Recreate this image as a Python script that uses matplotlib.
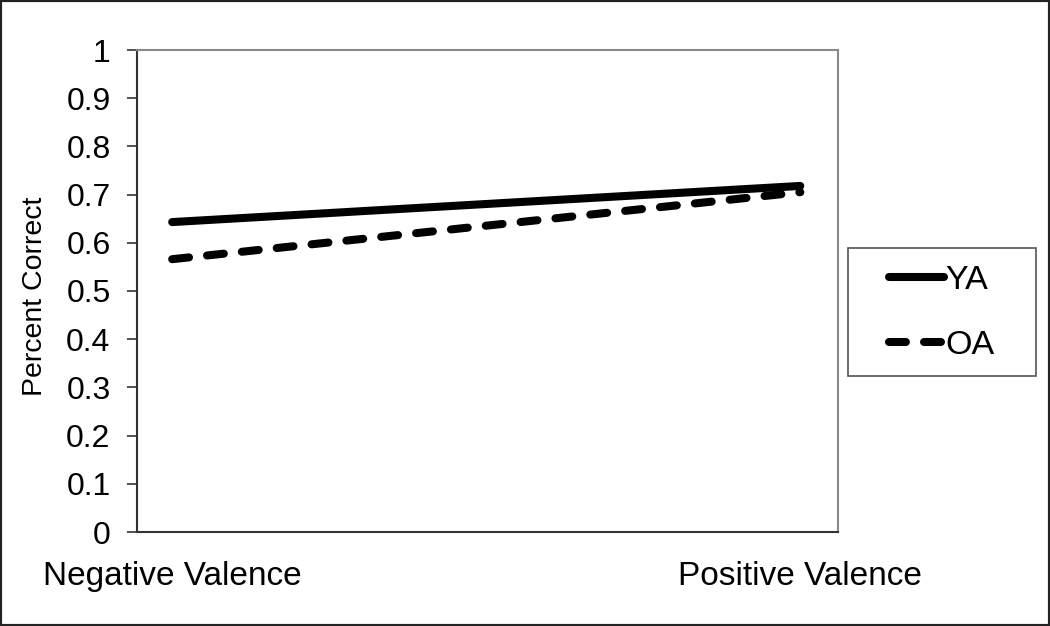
import matplotlib.pyplot as plt
from matplotlib.patches import Rectangle

# valeurs
categories = ["Negative Valence", "Positive Valence"]
ya_values = [0.643, 0.718]
oa_values = [0.566, 0.705]
y_ticks = [0, 0.1, 0.2, 0.3, 0.4, 0.5, 0.6, 0.7, 0.8, 0.9, 1]
y_tick_labels = ["0", "0.1", "0.2", "0.3", "0.4", "0.5", "0.6", "0.7", "0.8", "0.9", "1"]

plt.rcParams['font.family'] = ['Liberation Sans', 'DejaVu Sans']

fig = plt.figure(figsize=(10.5, 6.26), dpi=100)
ax = fig.add_axes([137 / 1050, 1 - 532 / 626, 701 / 1050, 482 / 626])

x = list(range(len(categories)))
ax.plot(x, ya_values, color='black', linewidth=5.8, solid_capstyle='round', label="YA")
ax.plot(x, oa_values, color='black', linewidth=5.8, linestyle=(0, (2.1, 2.25)),
        dash_capstyle='round', label="OA")

ax.set_xlim(-0.056, 1.06)
ax.set_ylim(0, 1)
ax.set_xticks(x)
ax.set_xticklabels(categories, fontsize=24)
ax.set_yticks(y_ticks)
ax.set_yticklabels(y_tick_labels, fontsize=23)
ax.tick_params(axis='x', length=0, pad=21)
ax.tick_params(axis='y', direction='out', length=7, width=1.2, color='#333333', pad=12)

ax.set_ylabel("Percent Correct", fontsize=20.5)
ax.yaxis.set_label_coords(-0.127, 0.49)

for side in ['top', 'right']:
    ax.spines[side].set_color('#888888')
    ax.spines[side].set_linewidth(1.5)
for side in ['left', 'bottom']:
    ax.spines[side].set_color('#333333')
    ax.spines[side].set_linewidth(1.5)

# légende sans cadre, cadre dessiné à part
leg = fig.legend(loc='center', bbox_to_anchor=(942 / 1050, 1 - 313 / 626), frameon=False,
                 fontsize=24.5, handlelength=1.6, handletextpad=0.05, labelspacing=1.0)
fig.patches.append(Rectangle((848 / 1050, 1 - 376 / 626), 188 / 1050, 128 / 626,
                             transform=fig.transFigure, fill=False,
                             edgecolor='#555555', linewidth=1.2))

# bordure extérieure
fig.patches.append(Rectangle((0, 0), 1, 1, transform=fig.transFigure, fill=False,
                             edgecolor='#222222', linewidth=3))

plt.savefig("out.png", dpi=100)
